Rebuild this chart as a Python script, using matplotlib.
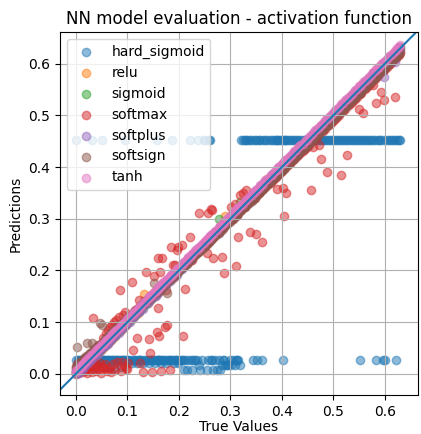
import matplotlib.pyplot as plt

# true labels of the test set (shared by every model)
true_values = [
    0.000, 0.001, 0.002, 0.004, 0.006, 0.008, 0.010, 0.011, 0.013, 0.015,
    0.017, 0.018, 0.020, 0.022, 0.024, 0.026, 0.028, 0.030, 0.031, 0.033,
    0.035, 0.037, 0.038, 0.040, 0.042, 0.044, 0.046, 0.048, 0.050, 0.052,
    0.054, 0.056, 0.058, 0.060, 0.062, 0.064, 0.066, 0.068, 0.070, 0.072,
    0.074, 0.076, 0.078, 0.080, 0.083, 0.085, 0.087, 0.089, 0.091, 0.093,
    0.095, 0.097, 0.099, 0.102, 0.105, 0.108, 0.110, 0.113, 0.115, 0.118,
    0.120, 0.122, 0.124, 0.127, 0.130, 0.133, 0.136, 0.139, 0.142, 0.144,
    0.146, 0.148, 0.151, 0.153, 0.155, 0.157, 0.159, 0.160, 0.161, 0.163,
    0.165, 0.167, 0.170, 0.173, 0.175, 0.177, 0.180, 0.183, 0.185, 0.186,
    0.188, 0.190, 0.192, 0.194, 0.196, 0.198, 0.202, 0.206, 0.208, 0.210,
    0.212, 0.215, 0.218, 0.221, 0.224, 0.225, 0.228, 0.232, 0.235, 0.237,
    0.239, 0.241, 0.244, 0.248, 0.251, 0.254, 0.256, 0.258, 0.260, 0.262,
    0.264, 0.266, 0.270, 0.274, 0.277, 0.280, 0.283, 0.285, 0.287, 0.290,
    0.293, 0.296, 0.299, 0.302, 0.305, 0.308, 0.311, 0.313, 0.315, 0.318,
    0.321, 0.324, 0.328, 0.331, 0.335, 0.338, 0.341, 0.344, 0.347, 0.350,
    0.351, 0.355, 0.358, 0.361, 0.364, 0.368, 0.372, 0.376, 0.380, 0.384,
    0.388, 0.390, 0.393, 0.397, 0.400, 0.402, 0.404, 0.406, 0.408, 0.412,
    0.416, 0.420, 0.424, 0.428, 0.432, 0.436, 0.440, 0.444, 0.448, 0.452,
    0.456, 0.460, 0.464, 0.468, 0.472, 0.476, 0.480, 0.484, 0.487, 0.491,
    0.495, 0.499, 0.503, 0.507, 0.511, 0.515, 0.519, 0.523, 0.526, 0.530,
    0.534, 0.538, 0.542, 0.546, 0.550, 0.551, 0.554, 0.557, 0.561, 0.565,
    0.569, 0.573, 0.577, 0.580, 0.583, 0.586, 0.589, 0.592, 0.596, 0.598,
    0.600, 0.604, 0.608, 0.612, 0.615, 0.619, 0.621, 0.624, 0.627, 0.630,
]

hard_sigmoid_preds = [
    0.027, 0.453, 0.013, 0.027, 0.026, 0.012, 0.027, 0.025, 0.026, 0.013,
    0.027, 0.026, 0.025, 0.027, 0.013, 0.026, 0.027, 0.026, 0.453, 0.027,
    0.026, 0.012, 0.027, 0.026, 0.027, 0.025, 0.027, 0.026, 0.453, 0.027,
    0.026, 0.027, 0.013, 0.027, 0.027, 0.026, 0.013, 0.027, 0.026, 0.027,
    0.012, 0.027, 0.026, 0.027, 0.026, 0.027, 0.013, 0.027, 0.026, 0.027,
    0.453, 0.026, 0.027, 0.026, 0.027, 0.020, 0.027, 0.026, 0.027, 0.020,
    0.026, 0.027, 0.026, 0.027, 0.020, 0.026, 0.027, 0.026, 0.020, 0.027,
    0.026, 0.027, 0.026, 0.020, 0.027, 0.453, 0.026, 0.027, 0.026, 0.027,
    0.020, 0.026, 0.027, 0.026, 0.020, 0.027, 0.026, 0.027, 0.026, 0.453,
    0.027, 0.020, 0.026, 0.027, 0.026, 0.020, 0.026, 0.027, 0.026, 0.008,
    0.027, 0.008, 0.026, 0.453, 0.027, 0.008, 0.026, 0.027, 0.026, 0.453,
    0.016, 0.008, 0.027, 0.453, 0.453, 0.008, 0.026, 0.453, 0.453, 0.027,
    0.026, 0.008, 0.027, 0.008, 0.026, 0.008, 0.017, 0.026, 0.027, 0.016,
    0.017, 0.016, 0.027, 0.016, 0.027, 0.016, 0.027, 0.026, 0.026, 0.016,
    0.453, 0.453, 0.453, 0.453, 0.453, 0.453, 0.453, 0.027, 0.453, 0.453,
    0.027, 0.453, 0.453, 0.027, 0.453, 0.453, 0.453, 0.453, 0.453, 0.453,
    0.453, 0.453, 0.453, 0.453, 0.453, 0.027, 0.453, 0.453, 0.453, 0.453,
    0.453, 0.453, 0.453, 0.453, 0.453, 0.453, 0.453, 0.453, 0.453, 0.453,
    0.453, 0.453, 0.453, 0.453, 0.453, 0.453, 0.453, 0.453, 0.453, 0.453,
    0.453, 0.453, 0.453, 0.453, 0.453, 0.453, 0.453, 0.453, 0.453, 0.453,
    0.453, 0.453, 0.453, 0.453, 0.453, 0.027, 0.453, 0.453, 0.453, 0.453,
    0.453, 0.453, 0.453, 0.453, 0.027, 0.453, 0.453, 0.453, 0.027, 0.453,
    0.027, 0.453, 0.453, 0.453, 0.453, 0.453, 0.027, 0.453, 0.453, 0.453,
]

relu_preds = [
    0.002, 0.000, 0.006, 0.001, 0.009, 0.006, 0.014, 0.009, 0.017, 0.013,
    0.021, 0.016, 0.024, 0.020, 0.028, 0.024, 0.032, 0.028, 0.035, 0.031,
    0.039, 0.035, 0.042, 0.038, 0.046, 0.042, 0.050, 0.046, 0.054, 0.050,
    0.058, 0.054, 0.062, 0.058, 0.066, 0.062, 0.070, 0.066, 0.074, 0.070,
    0.078, 0.074, 0.082, 0.078, 0.087, 0.083, 0.091, 0.087, 0.095, 0.091,
    0.099, 0.095, 0.103, 0.100, 0.109, 0.106, 0.114, 0.111, 0.119, 0.116,
    0.124, 0.120, 0.128, 0.125, 0.134, 0.155, 0.140, 0.137, 0.146, 0.142,
    0.150, 0.146, 0.155, 0.151, 0.159, 0.155, 0.163, 0.158, 0.165, 0.161,
    0.169, 0.165, 0.174, 0.171, 0.179, 0.175, 0.184, 0.181, 0.189, 0.184,
    0.192, 0.188, 0.196, 0.192, 0.200, 0.196, 0.206, 0.204, 0.212, 0.208,
    0.216, 0.213, 0.222, 0.219, 0.228, 0.223, 0.232, 0.230, 0.239, 0.235,
    0.243, 0.239, 0.248, 0.246, 0.255, 0.252, 0.260, 0.256, 0.264, 0.260,
    0.268, 0.264, 0.274, 0.272, 0.281, 0.278, 0.287, 0.283, 0.291, 0.306,
    0.297, 0.294, 0.303, 0.300, 0.309, 0.306, 0.315, 0.311, 0.319, 0.316,
    0.325, 0.322, 0.332, 0.329, 0.339, 0.336, 0.345, 0.342, 0.351, 0.348,
    0.355, 0.353, 0.362, 0.359, 0.368, 0.366, 0.376, 0.374, 0.384, 0.382,
    0.392, 0.388, 0.397, 0.395, 0.404, 0.400, 0.408, 0.404, 0.412, 0.410,
    0.420, 0.418, 0.428, 0.426, 0.436, 0.434, 0.444, 0.442, 0.452, 0.450,
    0.460, 0.458, 0.468, 0.466, 0.476, 0.474, 0.484, 0.482, 0.491, 0.489,
    0.499, 0.497, 0.507, 0.505, 0.515, 0.513, 0.523, 0.521, 0.530, 0.528,
    0.538, 0.536, 0.546, 0.544, 0.554, 0.549, 0.558, 0.555, 0.565, 0.563,
    0.573, 0.571, 0.581, 0.578, 0.587, 0.584, 0.593, 0.590, 0.600, 0.596,
    0.604, 0.602, 0.612, 0.610, 0.619, 0.617, 0.625, 0.622, 0.631, 0.628,
]

sigmoid_preds = [
    0.005, 0.004, 0.003, 0.007, 0.005, 0.011, 0.009, 0.014, 0.012, 0.018,
    0.016, 0.021, 0.019, 0.025, 0.023, 0.029, 0.027, 0.033, 0.030, 0.036,
    0.034, 0.040, 0.037, 0.043, 0.041, 0.047, 0.045, 0.051, 0.049, 0.055,
    0.053, 0.059, 0.057, 0.063, 0.061, 0.067, 0.065, 0.071, 0.069, 0.075,
    0.073, 0.079, 0.077, 0.083, 0.082, 0.088, 0.086, 0.092, 0.090, 0.096,
    0.094, 0.100, 0.098, 0.105, 0.104, 0.111, 0.109, 0.116, 0.114, 0.121,
    0.119, 0.125, 0.123, 0.130, 0.129, 0.136, 0.135, 0.142, 0.141, 0.147,
    0.145, 0.151, 0.150, 0.156, 0.154, 0.160, 0.158, 0.163, 0.160, 0.166,
    0.164, 0.170, 0.169, 0.176, 0.174, 0.180, 0.179, 0.186, 0.184, 0.189,
    0.187, 0.193, 0.191, 0.197, 0.195, 0.201, 0.201, 0.209, 0.207, 0.213,
    0.211, 0.218, 0.217, 0.224, 0.223, 0.228, 0.227, 0.235, 0.234, 0.240,
    0.238, 0.244, 0.243, 0.251, 0.250, 0.257, 0.255, 0.261, 0.259, 0.265,
    0.263, 0.269, 0.269, 0.277, 0.300, 0.283, 0.282, 0.288, 0.286, 0.293,
    0.292, 0.299, 0.298, 0.305, 0.304, 0.311, 0.310, 0.316, 0.314, 0.333,
    0.320, 0.327, 0.327, 0.334, 0.334, 0.341, 0.340, 0.347, 0.346, 0.353,
    0.350, 0.358, 0.357, 0.364, 0.363, 0.371, 0.371, 0.379, 0.379, 0.387,
    0.387, 0.393, 0.392, 0.400, 0.399, 0.405, 0.403, 0.409, 0.407, 0.415,
    0.415, 0.423, 0.423, 0.431, 0.431, 0.439, 0.439, 0.447, 0.447, 0.455,
    0.455, 0.463, 0.463, 0.471, 0.471, 0.479, 0.479, 0.487, 0.486, 0.494,
    0.494, 0.502, 0.502, 0.510, 0.510, 0.518, 0.518, 0.526, 0.525, 0.533,
    0.533, 0.541, 0.541, 0.549, 0.549, 0.554, 0.553, 0.560, 0.560, 0.568,
    0.568, 0.576, 0.576, 0.583, 0.582, 0.589, 0.588, 0.595, 0.595, 0.601,
    0.599, 0.607, 0.607, 0.615, 0.614, 0.622, 0.620, 0.627, 0.626, 0.633,
]

softmax_preds = [
    0.012, 0.004, 0.018, 0.002, 0.015, 0.008, 0.020, 0.003, 0.012, 0.017,
    0.006, 0.022, 0.010, 0.001, 0.015, 0.024, 0.007, 0.018, 0.003, 0.108,
    0.013, 0.020, 0.005, 0.016, 0.055, 0.009, 0.021, 0.002, 0.014, 0.070,
    0.011, 0.019, 0.078, 0.006, 0.085, 0.012, 0.090, 0.004, 0.095, 0.018,
    0.100, 0.008, 0.104, 0.022, 0.110, 0.162, 0.005, 0.022, 0.114, 0.015,
    0.120, 0.012, 0.010, 0.020, 0.112, 0.178, 0.046, 0.118, 0.123, 0.070,
    0.128, 0.143, 0.020, 0.133, 0.003, 0.140, 0.197, 0.145, 0.068, 0.040,
    0.152, 0.004, 0.190, 0.158, 0.160, 0.081, 0.224, 0.128, 0.073, 0.197,
    0.006, 0.224, 0.172, 0.091, 0.162, 0.095, 0.183, 0.008, 0.246, 0.190,
    0.211, 0.195, 0.211, 0.198, 0.240, 0.246, 0.205, 0.250, 0.073, 0.213,
    0.164, 0.218, 0.222, 0.265, 0.226, 0.220, 0.232, 0.236, 0.238, 0.242,
    0.311, 0.245, 0.248, 0.250, 0.255, 0.234, 0.311, 0.261, 0.265, 0.319,
    0.317, 0.224, 0.272, 0.276, 0.280, 0.283, 0.226, 0.288, 0.195, 0.292,
    0.295, 0.298, 0.300, 0.322, 0.300, 0.328, 0.209, 0.307, 0.265, 0.345,
    0.316, 0.350, 0.322, 0.355, 0.330, 0.275, 0.336, 0.338, 0.341, 0.271,
    0.345, 0.349, 0.352, 0.255, 0.358, 0.361, 0.365, 0.369, 0.373, 0.377,
    0.380, 0.358, 0.385, 0.389, 0.392, 0.360, 0.306, 0.398, 0.350, 0.404,
    0.408, 0.411, 0.415, 0.419, 0.423, 0.427, 0.431, 0.435, 0.439, 0.443,
    0.356, 0.439, 0.455, 0.459, 0.443, 0.416, 0.470, 0.474, 0.391, 0.481,
    0.485, 0.489, 0.493, 0.497, 0.501, 0.385, 0.509, 0.513, 0.424, 0.520,
    0.524, 0.528, 0.532, 0.536, 0.513, 0.541, 0.544, 0.505, 0.551, 0.555,
    0.559, 0.563, 0.559, 0.570, 0.524, 0.576, 0.579, 0.545, 0.586, 0.530,
    0.590, 0.594, 0.598, 0.602, 0.605, 0.536, 0.611, 0.614, 0.617, 0.620,
]

softplus_preds = [
    0.003, -0.001, 0.007, 0.004, 0.002, 0.012, 0.011, 0.008, 0.019, 0.014,
    0.020, 0.016, 0.025, 0.022, 0.020, 0.030, 0.029, 0.027, 0.037, 0.032,
    0.038, 0.035, 0.043, 0.040, 0.038, 0.048, 0.047, 0.045, 0.056, 0.051,
    0.057, 0.054, 0.063, 0.060, 0.058, 0.068, 0.067, 0.065, 0.076, 0.071,
    0.077, 0.074, 0.083, 0.080, 0.079, 0.089, 0.088, 0.086, 0.097, 0.092,
    0.098, 0.095, 0.104, 0.102, 0.101, 0.112, 0.111, 0.110, 0.121, 0.117,
    0.123, 0.120, 0.129, 0.127, 0.126, 0.137, 0.137, 0.136, 0.148, 0.143,
    0.149, 0.146, 0.156, 0.153, 0.151, 0.161, 0.160, 0.157, 0.167, 0.162,
    0.168, 0.165, 0.175, 0.173, 0.171, 0.181, 0.181, 0.180, 0.191, 0.185,
    0.191, 0.188, 0.197, 0.194, 0.192, 0.202, 0.203, 0.203, 0.214, 0.209,
    0.215, 0.213, 0.223, 0.221, 0.220, 0.229, 0.229, 0.229, 0.241, 0.236,
    0.242, 0.239, 0.249, 0.248, 0.247, 0.258, 0.257, 0.255, 0.266, 0.261,
    0.267, 0.264, 0.275, 0.274, 0.273, 0.284, 0.284, 0.282, 0.293, 0.289,
    0.296, 0.294, 0.304, 0.302, 0.301, 0.312, 0.312, 0.310, 0.321, 0.317,
    0.324, 0.322, 0.333, 0.331, 0.331, 0.342, 0.342, 0.341, 0.353, 0.349,
    0.354, 0.353, 0.363, 0.361, 0.360, 0.372, 0.373, 0.373, 0.386, 0.383,
    0.391, 0.388, 0.398, 0.397, 0.396, 0.406, 0.405, 0.403, 0.414, 0.411,
    0.419, 0.418, 0.429, 0.428, 0.428, 0.440, 0.441, 0.441, 0.454, 0.451,
    0.459, 0.458, 0.469, 0.468, 0.468, 0.480, 0.481, 0.481, 0.493, 0.490,
    0.498, 0.497, 0.508, 0.507, 0.507, 0.519, 0.520, 0.520, 0.532, 0.529,
    0.537, 0.536, 0.547, 0.546, 0.546, 0.555, 0.555, 0.554, 0.567, 0.564,
    0.572, 0.571, 0.582, 0.580, 0.579, 0.590, 0.590, 0.589, 0.602, 0.574,
    0.603, 0.602, 0.613, 0.612, 0.611, 0.603, 0.622, 0.621, 0.633, 0.629,
]

softsign_preds = [
    0.012, 0.015, 0.052, 0.016, 0.019, 0.022, 0.024, 0.021, 0.027, 0.030,
    0.031, 0.029, 0.034, 0.060, 0.035, 0.039, 0.040, 0.041, 0.060, 0.045,
    0.046, 0.049, 0.048, 0.052, 0.053, 0.055, 0.099, 0.058, 0.095, 0.062,
    0.064, 0.067, 0.066, 0.070, 0.073, 0.072, 0.077, 0.078, 0.079, 0.082,
    0.083, 0.086, 0.086, 0.089, 0.092, 0.093, 0.096, 0.097, 0.099, 0.101,
    0.103, 0.105, 0.106, 0.110, 0.112, 0.114, 0.117, 0.119, 0.121, 0.123,
    0.126, 0.127, 0.129, 0.133, 0.134, 0.138, 0.140, 0.143, 0.146, 0.147,
    0.150, 0.151, 0.176, 0.156, 0.158, 0.159, 0.162, 0.162, 0.163, 0.166,
    0.167, 0.169, 0.172, 0.174, 0.177, 0.157, 0.181, 0.185, 0.186, 0.187,
    0.189, 0.191, 0.192, 0.195, 0.196, 0.198, 0.203, 0.206, 0.207, 0.210,
    0.211, 0.215, 0.217, 0.220, 0.222, 0.224, 0.226, 0.231, 0.233, 0.235,
    0.237, 0.240, 0.241, 0.246, 0.248, 0.252, 0.253, 0.256, 0.257, 0.260,
    0.261, 0.264, 0.266, 0.271, 0.273, 0.277, 0.279, 0.282, 0.283, 0.287,
    0.289, 0.293, 0.294, 0.298, 0.300, 0.304, 0.306, 0.309, 0.310, 0.314,
    0.316, 0.320, 0.322, 0.326, 0.329, 0.333, 0.335, 0.339, 0.341, 0.345,
    0.345, 0.350, 0.352, 0.355, 0.358, 0.362, 0.366, 0.370, 0.374, 0.378,
    0.381, 0.384, 0.386, 0.391, 0.393, 0.396, 0.397, 0.400, 0.401, 0.405,
    0.408, 0.413, 0.416, 0.421, 0.424, 0.429, 0.432, 0.437, 0.440, 0.445,
    0.448, 0.453, 0.456, 0.461, 0.464, 0.469, 0.472, 0.477, 0.479, 0.484,
    0.487, 0.492, 0.495, 0.500, 0.503, 0.508, 0.511, 0.516, 0.518, 0.523,
    0.526, 0.531, 0.534, 0.539, 0.542, 0.544, 0.546, 0.550, 0.553, 0.558,
    0.561, 0.566, 0.569, 0.573, 0.575, 0.579, 0.581, 0.585, 0.588, 0.591,
    0.592, 0.597, 0.600, 0.605, 0.607, 0.612, 0.613, 0.617, 0.619, 0.623,
]

tanh_preds = [
    0.004, 0.008, 0.005, 0.010, 0.011, 0.012, 0.016, 0.015, 0.019, 0.020,
    0.022, 0.025, 0.024, 0.029, 0.028, 0.033, 0.032, 0.036, 0.037, 0.038,
    0.041, 0.042, 0.045, 0.045, 0.049, 0.050, 0.051, 0.055, 0.055, 0.058,
    0.060, 0.061, 0.065, 0.065, 0.068, 0.070, 0.071, 0.075, 0.075, 0.078,
    0.080, 0.081, 0.085, 0.085, 0.089, 0.091, 0.092, 0.096, 0.096, 0.099,
    0.101, 0.102, 0.106, 0.107, 0.111, 0.114, 0.115, 0.120, 0.120, 0.124,
    0.126, 0.127, 0.131, 0.132, 0.136, 0.139, 0.141, 0.146, 0.147, 0.150,
    0.152, 0.153, 0.158, 0.158, 0.161, 0.163, 0.164, 0.167, 0.166, 0.169,
    0.171, 0.172, 0.177, 0.178, 0.181, 0.183, 0.185, 0.190, 0.190, 0.192,
    0.194, 0.195, 0.199, 0.199, 0.202, 0.204, 0.207, 0.213, 0.213, 0.216,
    0.218, 0.220, 0.225, 0.226, 0.230, 0.231, 0.233, 0.239, 0.240, 0.243,
    0.245, 0.246, 0.251, 0.253, 0.257, 0.260, 0.261, 0.265, 0.265, 0.268,
    0.270, 0.271, 0.277, 0.279, 0.283, 0.286, 0.288, 0.292, 0.292, 0.296,
    0.299, 0.301, 0.306, 0.307, 0.311, 0.314, 0.316, 0.320, 0.320, 0.324,
    0.327, 0.329, 0.335, 0.336, 0.341, 0.344, 0.346, 0.351, 0.352, 0.356,
    0.357, 0.360, 0.365, 0.366, 0.370, 0.374, 0.377, 0.383, 0.385, 0.390,
    0.394, 0.395, 0.400, 0.402, 0.406, 0.408, 0.409, 0.413, 0.413, 0.418,
    0.422, 0.425, 0.431, 0.433, 0.438, 0.442, 0.445, 0.451, 0.453, 0.458,
    0.462, 0.465, 0.471, 0.473, 0.478, 0.482, 0.485, 0.491, 0.492, 0.497,
    0.501, 0.504, 0.510, 0.512, 0.517, 0.521, 0.524, 0.530, 0.531, 0.536,
    0.540, 0.543, 0.549, 0.551, 0.556, 0.557, 0.559, 0.564, 0.566, 0.571,
    0.575, 0.578, 0.584, 0.585, 0.589, 0.592, 0.594, 0.599, 0.601, 0.604,
    0.606, 0.609, 0.615, 0.617, 0.621, 0.625, 0.626, 0.631, 0.632, 0.636,
]

activations = ["hard_sigmoid", "relu", "sigmoid", "softmax", "softplus", "softsign", "tanh"]
x_lims = [-0.031, 0.664]
y_lims = [-0.041, 0.661]

predictions = {
    "hard_sigmoid": hard_sigmoid_preds,
    "relu": relu_preds,
    "sigmoid": sigmoid_preds,
    "softmax": softmax_preds,
    "softplus": softplus_preds,
    "softsign": softsign_preds,
    "tanh": tanh_preds,
}

fig = plt.figure(figsize=(4.21, 4.34), dpi=100)
ax = fig.add_axes([0.1425, 0.09, 0.850, 0.836])

for name in activations:
    ax.scatter(true_values, predictions[name], alpha=0.5, label=name)

ax.set_xlim(x_lims)
ax.set_ylim(y_lims)
ax.plot(x_lims, x_lims)

ax.set_title("NN model evaluation - activation function")
ax.set_xlabel("True Values", labelpad=1)
ax.set_ylabel("Predictions")
ax.grid(True)
ax.legend(loc="upper left")

fig.savefig("out.png", dpi=100)
